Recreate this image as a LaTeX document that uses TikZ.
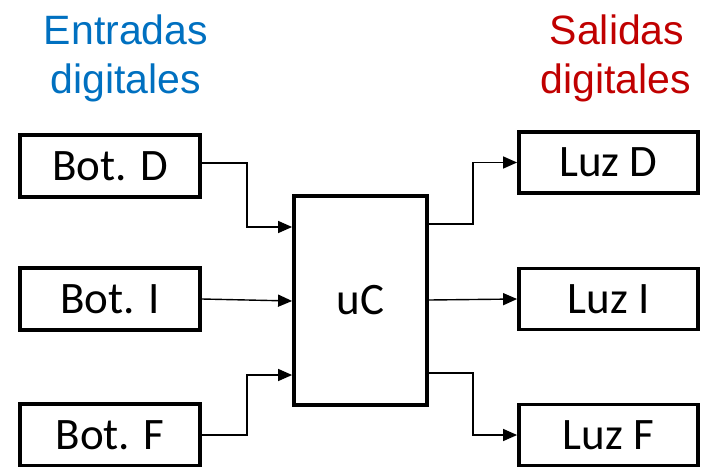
\documentclass[tikz,border=0pt]{standalone}
\usepackage{fontspec}
\setmainfont{Carlito}
\newfontfamily\hdrfont{Liberation Sans}
\usetikzlibrary{arrows.meta}
\definecolor{inblue}{HTML}{0070C0}
\definecolor{outred}{HTML}{C00000}
\tikzset{
  blockbox/.style={draw=black, line width=3.8pt, fill=white, inner sep=0pt,
    minimum width=180pt, minimum height=62pt, font=\fontsize{45}{50}\selectfont},
  conn/.style={line width=1.4pt, -{Triangle[length=14pt,width=12pt]}},
  hdr/.style={anchor=base, inner sep=0pt, font=\hdrfont\fontsize{41}{50}\selectfont}
}
\begin{document}
\begin{tikzpicture}[x=1pt,y=-1pt]
\useasboundingbox (0,0) rectangle (701,466);
% headers
\node[hdr, text=inblue] (ent1) at (126,44) {Entradas};
\node[hdr, text=inblue] (ent2) at (126,93) {digitales};
\node[hdr, text=outred] (sal1) at (617,44) {Salidas};
\node[hdr, text=outred] (sal2) at (616,93) {digitales};
% input boxes
\node[blockbox] (botD) at (110,166) {Bot. D};
\node[blockbox] (botI) at (110,299) {Bot. I};
\node[blockbox] (botF) at (110,435) {Bot. F};
% controller
\node[blockbox, minimum width=133pt, minimum height=209pt] (uC) at (360.5,300.5) {uC};
% output boxes
\node[blockbox, minimum width=179pt, minimum height=61pt] (luzD) at (608.5,162.5) {Luz D};
\node[blockbox, minimum width=179pt, minimum height=61pt] (luzI) at (608.5,299) {Luz I};
\node[blockbox, minimum width=179pt, minimum height=61pt] (luzF) at (608.5,435) {Luz F};
% input connectors
\draw[conn] ([yshift=3pt]botD.east) -- (247,163) |- ([yshift=73.5pt]uC.west);
\draw[conn] (botI.east) -- ([yshift=-0.5pt]uC.west);
\draw[conn] (botF.east) -- (247,435) |- ([yshift=-74.5pt]uC.west);
% output connectors
\draw[conn] ([yshift=76.5pt]uC.east) -- (473,224) |- (luzD.west);
\draw[conn] ([yshift=0.5pt]uC.east) -- (luzI.west);
\draw[conn] ([yshift=-72.5pt]uC.east) -- (473,373) |- (luzF.west);
\end{tikzpicture}
\end{document}
